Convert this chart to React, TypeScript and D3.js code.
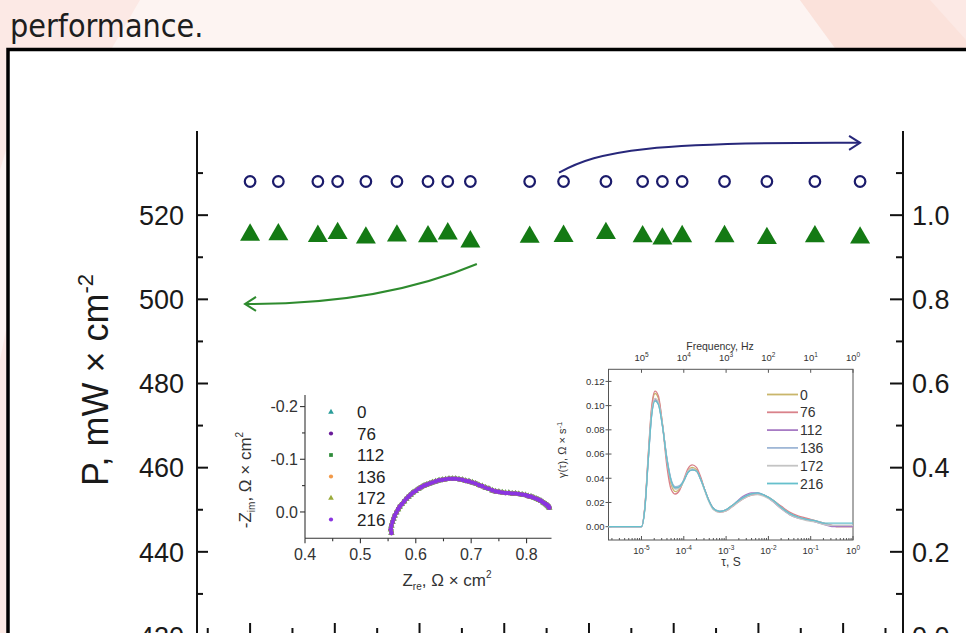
import React from 'react';
import * as d3 from 'd3';

// ---------------- Main chart data ----------------
const TIME_H = [0, 10, 24, 31, 41, 52, 63, 70, 78, 99, 111, 126, 139, 146, 153, 168, 183, 200, 216];
const POWER_P = [516.0, 516.1, 515.7, 516.4, 515.3, 515.8, 515.6, 516.3, 514.4, 515.5, 515.7, 516.4, 515.6, 515.1, 515.65, 515.65, 515.2, 515.6, 515.3];
const EFF = [1.08, 1.08, 1.08, 1.08, 1.08, 1.08, 1.08, 1.08, 1.08, 1.08, 1.08, 1.08, 1.08, 1.08, 1.08, 1.08, 1.08, 1.08, 1.08];
const LEFT_TICKS = [420, 440, 460, 480, 500, 520];
const LEFT_MINOR = [430, 450, 470, 490, 510, 530];
const RIGHT_TICKS = [0.0, 0.2, 0.4, 0.6, 0.8, 1.0];
const RIGHT_MINOR = [0.1, 0.3, 0.5, 0.7, 0.9, 1.1];
const TIME_TICKS = [0, 30, 60, 90, 120, 150, 180, 210];
const TIME_MINOR = [-15, 15, 45, 75, 105, 135, 165, 195, 225];
// annotation arrows (data units)
const ARROW_BLUE = [[109.4, 1.101], [123.9, 1.155], [141.6, 1.174], [216, 1.172]];
const ARROW_GREEN = [[80.3, 508.4], [46, 498.7], [-1.8, 498.9]];

// ---------------- Nyquist inset ----------------
const NYQ_SERIES = ['0', '76', '112', '136', '172', '216'];
const NYQ_RE = [0.556, 0.555, 0.556, 0.558, 0.560, 0.562, 0.565, 0.568, 0.571, 0.575, 0.579, 0.583, 0.587, 0.591, 0.595, 0.600, 0.605, 0.610, 0.615, 0.620, 0.625, 0.630, 0.636, 0.642, 0.648, 0.654, 0.660, 0.666, 0.672, 0.678, 0.684, 0.690, 0.696, 0.702, 0.708, 0.714, 0.720, 0.726, 0.732, 0.738, 0.744, 0.750, 0.756, 0.762, 0.768, 0.774, 0.780, 0.786, 0.792, 0.798, 0.803, 0.808, 0.813, 0.818, 0.822, 0.826, 0.830, 0.833, 0.836, 0.838, 0.840, 0.841];
const NYQ_IM = [0.040, 0.033, 0.026, 0.019, 0.013, 0.007, 0.001, -0.005, -0.010, -0.015, -0.020, -0.025, -0.029, -0.033, -0.037, -0.040, -0.044, -0.047, -0.050, -0.052, -0.054, -0.056, -0.058, -0.060, -0.061, -0.062, -0.063, -0.063, -0.063, -0.062, -0.061, -0.059, -0.058, -0.056, -0.054, -0.051, -0.049, -0.046, -0.044, -0.041, -0.039, -0.038, -0.037, -0.036, -0.036, -0.035, -0.035, -0.034, -0.033, -0.032, -0.030, -0.029, -0.027, -0.025, -0.023, -0.021, -0.018, -0.016, -0.014, -0.012, -0.010, -0.008];
const NYQ_X_TICKS = [0.4, 0.5, 0.6, 0.7, 0.8];
const NYQ_X_MINOR = [0.45, 0.55, 0.65, 0.75];
const NYQ_Y_TICKS = [-0.2, -0.1, 0.0];
const NYQ_Y_MINOR = [-0.15, -0.05];

// ---------------- DRT inset ----------------
const DRT_LABELS = ['0', '76', '112', '136', '172', '216'];
const TAU_LOG = [-5.78, -5.0, -4.92, -4.84, -4.76, -4.68, -4.6, -4.5, -4.4, -4.3, -4.2, -4.1, -4.0, -3.9, -3.8, -3.7, -3.6, -3.5, -3.4, -3.3, -3.15, -3.0, -2.8, -2.6, -2.4, -2.25, -2.1, -1.9, -1.7, -1.5, -1.3, -1.1, -0.9, -0.7, -0.5, -0.35, 0];
const G_0 = [0, 0, 0.016, 0.058, 0.097, 0.110, 0.106, 0.084, 0.054, 0.035, 0.029, 0.031, 0.038, 0.046, 0.049, 0.047, 0.040, 0.030, 0.021, 0.015, 0.0125, 0.014, 0.019, 0.024, 0.027, 0.0275, 0.026, 0.022, 0.016, 0.011, 0.008, 0.0065, 0.005, 0.003, 0.001, 0.0, 0.0];
const G_76 = [0, 0, 0.017, 0.060, 0.099, 0.112, 0.108, 0.083, 0.050, 0.031, 0.027, 0.030, 0.039, 0.048, 0.051, 0.049, 0.041, 0.030, 0.021, 0.015, 0.012, 0.013, 0.018, 0.023, 0.026, 0.027, 0.026, 0.022, 0.017, 0.012, 0.009, 0.007, 0.005, 0.003, 0.001, 0.0, 0.0];
const G_112 = [0, 0, 0.016, 0.056, 0.093, 0.105, 0.102, 0.083, 0.056, 0.038, 0.032, 0.033, 0.038, 0.045, 0.047, 0.046, 0.039, 0.030, 0.021, 0.015, 0.0125, 0.014, 0.019, 0.025, 0.028, 0.028, 0.026, 0.021, 0.015, 0.010, 0.007, 0.006, 0.004, 0.002, 0.0, 0.0, 0.0];
const G_136 = [0, 0, 0.015, 0.055, 0.092, 0.104, 0.101, 0.082, 0.057, 0.039, 0.033, 0.034, 0.038, 0.045, 0.047, 0.046, 0.039, 0.030, 0.021, 0.015, 0.013, 0.014, 0.019, 0.024, 0.027, 0.0275, 0.026, 0.022, 0.016, 0.011, 0.008, 0.006, 0.005, 0.003, 0.001, 0.001, 0.001];
const G_172 = [0, 0, 0.016, 0.057, 0.095, 0.106, 0.103, 0.083, 0.055, 0.037, 0.031, 0.032, 0.038, 0.046, 0.048, 0.046, 0.039, 0.029, 0.020, 0.014, 0.012, 0.013, 0.018, 0.023, 0.026, 0.0265, 0.025, 0.021, 0.015, 0.010, 0.007, 0.005, 0.004, 0.002, 0.001, 0.001, 0.001];
const G_216 = [0, 0, 0.015, 0.055, 0.092, 0.104, 0.101, 0.082, 0.056, 0.038, 0.032, 0.033, 0.038, 0.045, 0.047, 0.046, 0.039, 0.030, 0.021, 0.015, 0.0125, 0.014, 0.019, 0.024, 0.027, 0.028, 0.026, 0.022, 0.016, 0.011, 0.008, 0.006, 0.005, 0.003, 0.003, 0.003, 0.003];
const DRT_Y_TICKS = [0.0, 0.02, 0.04, 0.06, 0.08, 0.10, 0.12];
const TAU_DECADES = [-5, -4, -3, -2, -1, 0];
const FREQ_DECADES = [5, 4, 3, 2, 1, 0];

const FONT = 'Liberation Sans, Arial, Helvetica, sans-serif';

const NYQ_COLORS = ['#2a9d9a', '#6a1b9a', '#2e8b3a', '#f29a4a', '#9aab3a', '#8a35e0'];
const NYQ_SHAPES = [d3.symbolTriangle, d3.symbolCircle, d3.symbolSquare, d3.symbolCircle, d3.symbolTriangle, d3.symbolCircle];
const DRT_COLORS = ['#c9b66b', '#d9828a', '#a77bc4', '#9fb7d6', '#c4c4c4', '#66c0cc'];

function tri(cx: number, cy: number, s: number) {
  const h = s * Math.sqrt(3) / 2;
  return `M${cx},${cy - h / 2}L${cx + s / 2},${cy + h / 2}L${cx - s / 2},${cy + h / 2}Z`;
}

export default function App() {
  // main scales
  const x = d3.scaleLinear().domain([-18.8, 231.2]).range([197, 903]);
  const yL = d3.scaleLinear().domain([420, 540]).range([636, 131]);
  const yR = d3.scaleLinear().domain([0, 1.2]).range([636, 131]);

  // nyquist scales
  const nx = d3.scaleLinear().domain([0.4, 0.845]).range([305, 551.5]);
  const ny = d3.scaleLinear().domain([0.05, -0.222]).range([538.3, 395]);

  // DRT scales
  const dx = d3.scaleLog().domain([Math.pow(10, -5.78), 1]).range([608.5, 853]);
  const dy = d3.scaleLinear().domain([-0.011, 0.13]).range([540, 369.3]);
  const drtSeries = [G_0, G_76, G_112, G_136, G_172, G_216];
  const drtLine = d3.line<[number, number]>()
    .x(d => dx(Math.pow(10, d[0])))
    .y(d => dy(d[1]))
    .curve(d3.curveMonotoneX);

  const bluePath = `M${x(ARROW_BLUE[0][0])},${yR(ARROW_BLUE[0][1])} C${x(ARROW_BLUE[1][0])},${yR(ARROW_BLUE[1][1])} ${x(ARROW_BLUE[2][0])},${yR(ARROW_BLUE[2][1])} ${x(ARROW_BLUE[3][0])},${yR(ARROW_BLUE[3][1])}`;
  const bEnd = [x(ARROW_BLUE[3][0]), yR(ARROW_BLUE[3][1])];
  const greenPath = `M${x(ARROW_GREEN[0][0])},${yL(ARROW_GREEN[0][1])} Q${x(ARROW_GREEN[1][0])},${yL(ARROW_GREEN[1][1])} ${x(ARROW_GREEN[2][0])},${yL(ARROW_GREEN[2][1])}`;
  const gEnd = [x(ARROW_GREEN[2][0]), yL(ARROW_GREEN[2][1])];

  const minorLog: number[] = [];
  for (let d = -6; d < 0; d++) for (let k = 2; k <= 9; k++) {
    const v = k * Math.pow(10, d);
    if (v >= Math.pow(10, -5.78) && v <= 1) minorLog.push(v);
  }

  return (
    <svg width={966} height={633} style={{ position: 'absolute', left: 0, top: 0, fontFamily: FONT }}>
      {/* page background */}
      <rect x={0} y={0} width={966} height={633} fill="#fce9e5" />
      <polygon points="140,0 800,0 835,48 112,48" fill="#fdf4f2" />
      <polygon points="800,0 930,0 966,40 966,48 835,48" fill="#fbe2db" />
      <polygon points="0,170 6,150 6,330 0,360" fill="#fdf4f2" />
      <text x={10} y={37} fontSize={32} fill="#1e1e1e" fontFamily="DejaVu Sans Condensed, DejaVu Sans, sans-serif">performance.</text>
      <rect x={8} y={49.5} width={1000} height={700} fill="#ffffff" stroke="#000" strokeWidth={3.5} />

      {/* main axes */}
      <g stroke="#111" strokeWidth={2}>
        <line x1={197} y1={yL(540)} x2={197} y2={640} />
        <line x1={903} y1={yR(1.2)} x2={903} y2={640} />
        <line x1={197} y1={636} x2={903} y2={636} />
        {LEFT_TICKS.map(t => <line key={'lt' + t} x1={197} x2={208} y1={yL(t)} y2={yL(t)} />)}
        {LEFT_MINOR.map(t => <line key={'lm' + t} x1={197} x2={203} y1={yL(t)} y2={yL(t)} />)}
        {RIGHT_TICKS.map(t => <line key={'rt' + t} x1={903} x2={890} y1={yR(t)} y2={yR(t)} />)}
        {RIGHT_MINOR.map(t => <line key={'rm' + t} x1={903} x2={896} y1={yR(t)} y2={yR(t)} />)}
        {TIME_TICKS.map(t => <line key={'bt' + t} x1={x(t)} x2={x(t)} y1={636} y2={623} />)}
        {TIME_MINOR.map(t => <line key={'bm' + t} x1={x(t)} x2={x(t)} y1={636} y2={628} />)}
      </g>
      <g fontSize={27} fill="#1a1a1a">
        {LEFT_TICKS.map(t => <text key={'ll' + t} x={184} y={yL(t)} dy="0.36em" textAnchor="end">{t}</text>)}
        {RIGHT_TICKS.map(t => <text key={'rl' + t} x={912} y={yR(t)} dy="0.36em">{t.toFixed(1)}</text>)}
      </g>
      <text transform="translate(108,380) rotate(-90)" textAnchor="middle" fontSize={36} fill="#1a1a1a">
        P, mW × cm<tspan dy={-15} fontSize={22}>-2</tspan>
      </text>

      {/* annotation arrows */}
      <path d={bluePath} fill="none" stroke="#27277a" strokeWidth={2} />
      <path d={`M${bEnd[0] - 11},${bEnd[1] - 7}L${bEnd[0]},${bEnd[1]}L${bEnd[0] - 11},${bEnd[1] + 7}`} fill="none" stroke="#27277a" strokeWidth={2} />
      <path d={greenPath} fill="none" stroke="#2e8b2e" strokeWidth={2} />
      <path d={`M${gEnd[0] + 11},${gEnd[1] - 7}L${gEnd[0]},${gEnd[1]}L${gEnd[0] + 11},${gEnd[1] + 7}`} fill="none" stroke="#2e8b2e" strokeWidth={2} />

      {/* main markers */}
      {TIME_H.map((t, i) => <path key={'tr' + i} d={tri(x(t), yL(POWER_P[i]), 20)} fill="#147a14" />)}
      {TIME_H.map((t, i) => <circle key={'ci' + i} cx={x(t)} cy={yR(EFF[i])} r={5.3} fill="#fff" stroke="#1b1b6b" strokeWidth={2.2} />)}

      {/* ---------- Nyquist inset ---------- */}
      <g stroke="#333" strokeWidth={1.1}>
        <line x1={nx(0.4)} x2={nx(0.4)} y1={ny(-0.222)} y2={ny(0.05)} />
        <line x1={nx(0.4)} x2={nx(0.845)} y1={ny(0.05)} y2={ny(0.05)} />
        {NYQ_Y_TICKS.map(t => <line key={'nyt' + t} x1={nx(0.4) - 5} x2={nx(0.4)} y1={ny(t)} y2={ny(t)} />)}
        {NYQ_Y_MINOR.map(t => <line key={'nym' + t} x1={nx(0.4) - 3} x2={nx(0.4)} y1={ny(t)} y2={ny(t)} />)}
        {NYQ_X_TICKS.map(t => <line key={'nxt' + t} x1={nx(t)} x2={nx(t)} y1={ny(0.05)} y2={ny(0.05) + 5} />)}
        {NYQ_X_MINOR.map(t => <line key={'nxm' + t} x1={nx(t)} x2={nx(t)} y1={ny(0.05)} y2={ny(0.05) + 3} />)}
      </g>
      <g fontSize={16} fill="#333">
        {NYQ_Y_TICKS.map(t => <text key={'nyl' + t} x={nx(0.4) - 7} y={ny(t)} dy="0.36em" textAnchor="end">{t.toFixed(1)}</text>)}
        {NYQ_X_TICKS.map(t => <text key={'nxl' + t} x={nx(t)} y={ny(0.05) + 22} textAnchor="middle">{t.toFixed(1)}</text>)}
      </g>
      <text transform={`translate(251,480) rotate(-90)`} textAnchor="middle" fontSize={17} fill="#333">
        -Z<tspan dy={4} fontSize={10}>im</tspan><tspan dy={-4}>, Ω × cm</tspan><tspan dy={-8} fontSize={10}>2</tspan>
      </text>
      <text x={447} y={586} textAnchor="middle" fontSize={17} fill="#333">
        Z<tspan dy={4} fontSize={10}>re</tspan><tspan dy={-4}>, Ω × cm</tspan><tspan dy={-8} fontSize={10}>2</tspan>
      </text>
      {NYQ_SERIES.map((s, si) => {
        const sym = d3.symbol().type(NYQ_SHAPES[si]).size(17)();
        return (
          <g key={'ns' + s} fill={NYQ_COLORS[si]}>
            {NYQ_RE.map((r, i) => <path key={i} d={sym || ''} transform={`translate(${nx(r)},${ny(NYQ_IM[i])})`} />)}
          </g>
        );
      })}
      {NYQ_SERIES.map((s, si) => {
        const sym = d3.symbol().type(NYQ_SHAPES[si]).size(14)();
        const yy = 412 + si * 21.5;
        return (
          <g key={'nl' + s}>
            <path d={sym || ''} transform={`translate(331,${yy})`} fill={NYQ_COLORS[si]} />
            <text x={357} y={yy} dy="0.36em" fontSize={17} fill="#222">{s}</text>
          </g>
        );
      })}

      {/* ---------- DRT inset ---------- */}
      <g stroke="#555" strokeWidth={1} fill="none">
        <rect x={dx(Math.pow(10, -5.78))} y={dy(0.13)} width={dx(1) - dx(Math.pow(10, -5.78))} height={dy(-0.011) - dy(0.13)} />
        {DRT_Y_TICKS.map(t => <line key={'dyt' + t} x1={dx(Math.pow(10, -5.78)) - 3} x2={dx(Math.pow(10, -5.78)) + 3} y1={dy(t)} y2={dy(t)} />)}
        {TAU_DECADES.map(d => <line key={'dxt' + d} x1={dx(Math.pow(10, d))} x2={dx(Math.pow(10, d))} y1={dy(-0.011)} y2={dy(-0.011) - 4} />)}
        {minorLog.map((v, i) => <line key={'dxm' + i} x1={dx(v)} x2={dx(v)} y1={dy(-0.011)} y2={dy(-0.011) - 2} />)}
        {FREQ_DECADES.map(d => <line key={'dft' + d} x1={dx(Math.pow(10, -d))} x2={dx(Math.pow(10, -d))} y1={dy(0.13)} y2={dy(0.13) + 3.5} />)}
      </g>
      <g fontSize={9.5} fill="#333">
        {DRT_Y_TICKS.map(t => <text key={'dyl' + t} x={dx(Math.pow(10, -5.78)) - 4} y={dy(t)} dy="0.36em" textAnchor="end">{t.toFixed(2)}</text>)}
        {TAU_DECADES.map(d => (
          <text key={'dxl' + d} x={dx(Math.pow(10, d))} y={dy(-0.011) + 14} textAnchor="middle">
            10<tspan dy={-4} fontSize={6.5}>{d}</tspan>
          </text>
        ))}
        {FREQ_DECADES.map(d => (
          <text key={'dfl' + d} x={dx(Math.pow(10, -d))} y={dy(0.13) - 8} textAnchor="middle">
            10<tspan dy={-4} fontSize={6.5}>{d}</tspan>
          </text>
        ))}
      </g>
      <text x={720} y={350} textAnchor="middle" fontSize={10.5} fill="#333">Frequency, Hz</text>
      <text x={731} y={566} textAnchor="middle" fontSize={12} fill="#333">τ, S</text>
      <text transform="translate(566,450) rotate(-90)" textAnchor="middle" fontSize={11} fill="#333">
        γ(τ), Ω × s<tspan dy={-4} fontSize={7.5}>-1</tspan>
      </text>
      {drtSeries.map((g, si) => (
        <path key={'dl' + si} d={drtLine(TAU_LOG.map((t, i) => [t, g[i]] as [number, number])) || ''} fill="none" stroke={DRT_COLORS[si]} strokeWidth={1.3} />
      ))}
      {DRT_LABELS.map((s, si) => {
        const yy = 394.5 + si * 17.8;
        return (
          <g key={'dlg' + s}>
            <line x1={767} x2={798} y1={yy} y2={yy} stroke={DRT_COLORS[si]} strokeWidth={1.8} />
            <text x={800} y={yy} dy="0.36em" fontSize={14} fill="#333">{s}</text>
          </g>
        );
      })}
    </svg>
  );
}
